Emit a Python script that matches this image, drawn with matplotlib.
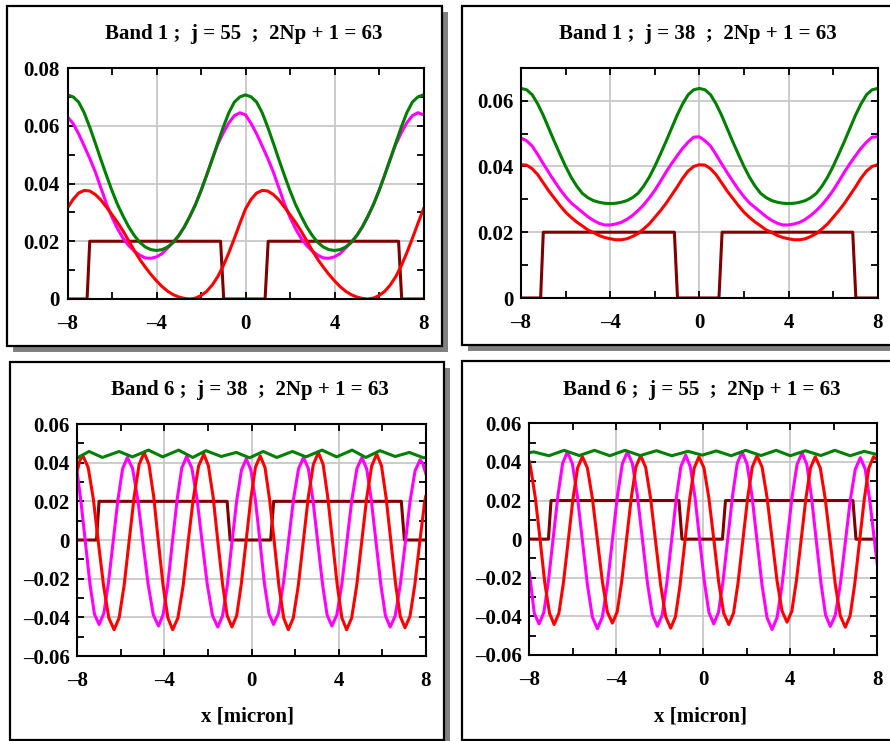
import numpy as np
import matplotlib
matplotlib.use("Agg")
import matplotlib.pyplot as plt
from matplotlib.patches import Rectangle
from matplotlib.ticker import FixedLocator, MultipleLocator, FuncFormatter

plt.rcParams['font.family'] = ['Liberation Serif', 'DejaVu Serif']
plt.rcParams['font.weight'] = 'bold'

# ---------------------------------------------------------------- data
# band 1 curves sampled every 0.25 micron from -8 to 8
x_b1 = np.linspace(-8, 8, 65)

b1_j55_green = [0.0707, 0.0700, 0.0682, 0.0645, 0.0595, 0.0540, 0.0483, 0.0428, 0.0375,
                0.0327, 0.0287, 0.0250, 0.0220, 0.0196, 0.0180, 0.0171, 0.0168,
                0.0171, 0.0180, 0.0196, 0.0220, 0.0250, 0.0287, 0.0327, 0.0375,
                0.0428, 0.0483, 0.0540, 0.0595, 0.0645, 0.0682, 0.0700, 0.0707,
                0.0700, 0.0682, 0.0645, 0.0595, 0.0540, 0.0483, 0.0428, 0.0375,
                0.0327, 0.0287, 0.0250, 0.0220, 0.0196, 0.0180, 0.0171, 0.0168,
                0.0171, 0.0180, 0.0196, 0.0220, 0.0250, 0.0287, 0.0327, 0.0375,
                0.0428, 0.0483, 0.0540, 0.0595, 0.0645, 0.0682, 0.0700, 0.0707]
b1_j55_magenta = [0.0630, 0.0608, 0.0572, 0.0530, 0.0487, 0.0440, 0.0385, 0.0330, 0.0283,
                  0.0243, 0.0210, 0.0185, 0.0166, 0.0152, 0.0142, 0.0141, 0.0146,
                  0.0157, 0.0177, 0.0196, 0.0219, 0.0249, 0.0285, 0.0327, 0.0375,
                  0.0428, 0.0483, 0.0535, 0.0575, 0.0610, 0.0635, 0.0645, 0.0638,
                  0.0608, 0.0572, 0.0530, 0.0487, 0.0440, 0.0385, 0.0330, 0.0283,
                  0.0243, 0.0210, 0.0185, 0.0166, 0.0152, 0.0142, 0.0141, 0.0146,
                  0.0157, 0.0177, 0.0196, 0.0219, 0.0249, 0.0285, 0.0327, 0.0375,
                  0.0428, 0.0483, 0.0535, 0.0575, 0.0610, 0.0635, 0.0645, 0.0638]
b1_j55_red = [0.0315, 0.0345, 0.0367, 0.0376, 0.0374, 0.0362, 0.0343, 0.0318, 0.0292,
              0.0265, 0.0235, 0.0202, 0.0168, 0.0137, 0.0110, 0.0085, 0.0063,
              0.0043, 0.0027, 0.0015, 0.0007, 0.0002, 0.0000, 0.0003, 0.0012,
              0.0026, 0.0048, 0.0077, 0.0115, 0.0160, 0.0210, 0.0262, 0.0312,
              0.0345, 0.0367, 0.0376, 0.0374, 0.0362, 0.0343, 0.0318, 0.0292,
              0.0265, 0.0235, 0.0202, 0.0168, 0.0137, 0.0110, 0.0085, 0.0063,
              0.0043, 0.0027, 0.0015, 0.0007, 0.0002, 0.0000, 0.0003, 0.0012,
              0.0026, 0.0048, 0.0077, 0.0115, 0.0160, 0.0210, 0.0262, 0.0312]

b1_j38_green = [0.0637, 0.0633, 0.0618, 0.0590, 0.0555, 0.0515, 0.0475, 0.0437, 0.0400,
                0.0367, 0.0340, 0.0318, 0.0305, 0.0296, 0.0291, 0.0288, 0.0287,
                0.0288, 0.0291, 0.0296, 0.0305, 0.0318, 0.0340, 0.0367, 0.0400,
                0.0437, 0.0475, 0.0515, 0.0555, 0.0590, 0.0618, 0.0633, 0.0637,
                0.0633, 0.0618, 0.0590, 0.0555, 0.0515, 0.0475, 0.0437, 0.0400,
                0.0367, 0.0340, 0.0318, 0.0305, 0.0296, 0.0291, 0.0288, 0.0287,
                0.0288, 0.0291, 0.0296, 0.0305, 0.0318, 0.0340, 0.0367, 0.0400,
                0.0437, 0.0475, 0.0515, 0.0555, 0.0590, 0.0618, 0.0633, 0.0637]
b1_j38_magenta = [0.0486, 0.0478, 0.0462, 0.0436, 0.0408, 0.0381, 0.0355, 0.0330, 0.0308,
                  0.0289, 0.0275, 0.0261, 0.0247, 0.0236, 0.0227, 0.0222, 0.0222,
                  0.0225, 0.0230, 0.0239, 0.0251, 0.0266, 0.0283, 0.0304, 0.0327,
                  0.0354, 0.0382, 0.0408, 0.0432, 0.0455, 0.0474, 0.0489, 0.0490,
                  0.0478, 0.0462, 0.0436, 0.0408, 0.0381, 0.0355, 0.0330, 0.0308,
                  0.0289, 0.0275, 0.0261, 0.0247, 0.0236, 0.0227, 0.0222, 0.0222,
                  0.0225, 0.0230, 0.0239, 0.0251, 0.0266, 0.0283, 0.0304, 0.0327,
                  0.0354, 0.0382, 0.0408, 0.0432, 0.0455, 0.0474, 0.0489, 0.0490]
b1_j38_red = [0.0405, 0.0404, 0.0393, 0.0375, 0.0350, 0.0325, 0.0303, 0.0281, 0.0261,
              0.0245, 0.0231, 0.0219, 0.0207, 0.0199, 0.0190, 0.0184, 0.0180,
              0.0177, 0.0177, 0.0180, 0.0187, 0.0196, 0.0210, 0.0225, 0.0245,
              0.0265, 0.0287, 0.0312, 0.0337, 0.0364, 0.0386, 0.0400, 0.0405,
              0.0404, 0.0393, 0.0375, 0.0350, 0.0325, 0.0303, 0.0281, 0.0261,
              0.0245, 0.0231, 0.0219, 0.0207, 0.0199, 0.0190, 0.0184, 0.0180,
              0.0177, 0.0177, 0.0180, 0.0187, 0.0196, 0.0210, 0.0225, 0.0245,
              0.0265, 0.0287, 0.0312, 0.0337, 0.0364, 0.0386, 0.0400, 0.0405]

# band 6, j = 38
b6_j38_red_x = [-8.00, -7.87,
                -7.74, -7.50, -7.26, -7.03, -6.79, -6.55,
                -6.31, -6.08, -5.85, -5.62, -5.39, -5.16,
                -4.93, -4.71, -4.49, -4.28, -4.06, -3.84,
                -3.62, -3.38, -3.14, -2.91, -2.67, -2.43,
                -2.19, -1.98, -1.76, -1.55, -1.33, -1.12,
                -0.90, -0.68, -0.47, -0.25, -0.03, 0.18,
                0.40, 0.62, 0.83, 1.05, 1.26, 1.48,
                1.69, 1.92, 2.15, 2.38, 2.61, 2.84,
                3.07, 3.29, 3.50, 3.72, 3.94, 4.15,
                4.37, 4.60, 4.83, 5.06, 5.29, 5.52,
                5.75, 5.97, 6.18, 6.40, 6.62, 6.83,
                7.05, 7.28, 7.50, 7.73, 7.95, 8.00]
b6_j38_red = [0.0360, 0.0415,
              0.0435, 0.0375, 0.0210, -0.0015, -0.0239, -0.0404,
              -0.0464, -0.0403, -0.0235, -0.0006, 0.0223, 0.0391,
              0.0452, 0.0391, 0.0223, -0.0006, -0.0235, -0.0403,
              -0.0464, -0.0403, -0.0237, -0.0010, 0.0217, 0.0383,
              0.0444, 0.0384, 0.0221, -0.0003, -0.0227, -0.0390,
              -0.0450, -0.0391, -0.0229, -0.0008, 0.0214, 0.0376,
              0.0435, 0.0375, 0.0210, -0.0015, -0.0239, -0.0404,
              -0.0464, -0.0403, -0.0235, -0.0006, 0.0223, 0.0391,
              0.0452, 0.0391, 0.0223, -0.0006, -0.0235, -0.0403,
              -0.0464, -0.0403, -0.0237, -0.0010, 0.0217, 0.0383,
              0.0444, 0.0384, 0.0220, -0.0005, -0.0230, -0.0394,
              -0.0454, -0.0394, -0.0232, -0.0008, 0.0195, 0.0225]
b6_j38_mag_x = [-8.00, -7.84, -7.63, -7.42, -7.21,
                -7.00, -6.78, -6.57, -6.35, -6.13, -5.92,
                -5.70, -5.46, -5.22, -4.99, -4.75, -4.51,
                -4.27, -4.06, -3.84, -3.63, -3.41, -3.20,
                -2.98, -2.74, -2.50, -2.27, -2.03, -1.79,
                -1.55, -1.33, -1.11, -0.90, -0.68, -0.46,
                -0.24, -0.03, 0.18, 0.39, 0.59, 0.80,
                1.01, 1.24, 1.47, 1.70, 1.93, 2.16,
                2.39, 2.61, 2.82, 3.04, 3.26, 3.47,
                3.69, 3.92, 4.15, 4.38, 4.61, 4.84,
                5.07, 5.29, 5.50, 5.72, 5.94, 6.15,
                6.37, 6.60, 6.83, 7.06, 7.28, 7.51,
                7.74, 7.87, 8.00]
b6_j38_mag = [0.0345, 0.0206, -0.0010, -0.0226, -0.0384,
              -0.0437, -0.0379, -0.0221, -0.0005, 0.0211, 0.0369,
              0.0427, 0.0369, 0.0209, -0.0009, -0.0227, -0.0387,
              -0.0445, -0.0386, -0.0226, -0.0007, 0.0213, 0.0373,
              0.0432, 0.0373, 0.0212, -0.0009, -0.0230, -0.0391,
              -0.0450, -0.0392, -0.0233, -0.0015, 0.0203, 0.0362,
              0.0420, 0.0363, 0.0206, -0.0009, -0.0223, -0.0380,
              -0.0437, -0.0379, -0.0221, -0.0005, 0.0211, 0.0369,
              0.0427, 0.0369, 0.0209, -0.0009, -0.0227, -0.0387,
              -0.0445, -0.0387, -0.0227, -0.0009, 0.0209, 0.0369,
              0.0427, 0.0368, 0.0208, -0.0012, -0.0231, -0.0391,
              -0.0450, -0.0392, -0.0234, -0.0018, 0.0199, 0.0357,
              0.0415, 0.0395, 0.0345]
b6_j38_green_x = [-8.00, -7.46, -6.85, -6.08, -5.47, -4.73, -4.08, -3.35, -2.70, -2.09,
                  -1.39, -0.70, -0.09, 0.54, 1.16, 1.88, 2.50, 3.24, 3.91, 4.62,
                  5.25, 5.90, 6.60, 7.25, 7.90, 8.00]
b6_j38_green = [0.0425, 0.0458, 0.0427, 0.0458, 0.0430, 0.0465, 0.0430, 0.0465, 0.0427, 0.0462,
                0.0432, 0.0453, 0.0425, 0.0458, 0.0427, 0.0458, 0.0430, 0.0465, 0.0430, 0.0465,
                0.0427, 0.0462, 0.0432, 0.0453, 0.0425, 0.0427]

# band 6, j = 55
b6_j55_red_x = [-8.00, -7.94, -7.72, -7.50, -7.29, -7.07,
                -6.86, -6.64, -6.43, -6.21, -5.99, -5.78,
                -5.56, -5.33, -5.10, -4.87, -4.64, -4.41,
                -4.18, -3.96, -3.75, -3.53, -3.31, -3.10,
                -2.88, -2.65, -2.42, -2.19, -1.96, -1.73,
                -1.50, -1.28, -1.07, -0.85, -0.63, -0.42,
                -0.20, 0.03, 0.26, 0.49, 0.71, 0.94,
                1.17, 1.39, 1.60, 1.82, 2.04, 2.25,
                2.47, 2.70, 2.93, 3.16, 3.39, 3.62,
                3.85, 4.07, 4.28, 4.50, 4.72, 4.93,
                5.15, 5.38, 5.61, 5.84, 6.07, 6.30,
                6.53, 6.75, 6.96, 7.18, 7.40, 7.61,
                7.83, 8.00]
b6_j55_red = [0.0401, 0.0372, 0.0212, -0.0006, -0.0224, -0.0384,
              -0.0442, -0.0384, -0.0225, -0.0008, 0.0210, 0.0369,
              0.0427, 0.0369, 0.0212, -0.0004, -0.0220, -0.0377,
              -0.0435, -0.0377, -0.0218, -0.0002, 0.0215, 0.0374,
              0.0432, 0.0372, 0.0209, -0.0015, -0.0238, -0.0401,
              -0.0461, -0.0402, -0.0239, -0.0017, 0.0205, 0.0368,
              0.0427, 0.0369, 0.0210, -0.0008, -0.0225, -0.0384,
              -0.0442, -0.0383, -0.0224, -0.0005, 0.0214, 0.0373,
              0.0432, 0.0374, 0.0217, 0.0001, -0.0215, -0.0372,
              -0.0430, -0.0373, -0.0216, -0.0002, 0.0213, 0.0370,
              0.0427, 0.0368, 0.0206, -0.0015, -0.0235, -0.0397,
              -0.0456, -0.0397, -0.0235, -0.0015, 0.0206, 0.0368,
              0.0427, 0.0410]
b6_j55_mag_x = [-8.00, -7.77,
                -7.55, -7.33, -7.12, -6.90, -6.68, -6.47,
                -6.25, -6.02, -5.79, -5.56, -5.33, -5.10,
                -4.87, -4.64, -4.41, -4.18, -3.95, -3.72,
                -3.49, -3.26, -3.03, -2.80, -2.57, -2.34,
                -2.11, -1.89, -1.68, -1.46, -1.24, -1.03,
                -0.81, -0.60, -0.38, -0.17, 0.05, 0.26,
                0.48, 0.70, 0.91, 1.13, 1.35, 1.56,
                1.78, 2.01, 2.24, 2.47, 2.70, 2.93,
                3.16, 3.39, 3.62, 3.85, 4.08, 4.31,
                4.54, 4.76, 4.97, 5.19, 5.41, 5.62,
                5.84, 6.07, 6.30, 6.53, 6.76, 6.99,
                7.22, 7.44, 7.65, 7.87, 8.00]
b6_j55_mag = [-0.0170, -0.0384,
              -0.0439, -0.0379, -0.0216, 0.0007, 0.0229, 0.0392,
              0.0452, 0.0391, 0.0223, -0.0006, -0.0235, -0.0403,
              -0.0464, -0.0403, -0.0235, -0.0006, 0.0223, 0.0391,
              0.0452, 0.0391, 0.0226, 0.0000, -0.0226, -0.0391,
              -0.0452, -0.0393, -0.0230, -0.0009, 0.0213, 0.0376,
              0.0435, 0.0376, 0.0217, -0.0002, -0.0221, -0.0380,
              -0.0439, -0.0379, -0.0216, 0.0007, 0.0229, 0.0392,
              0.0452, 0.0390, 0.0222, -0.0008, -0.0238, -0.0406,
              -0.0468, -0.0407, -0.0239, -0.0011, 0.0218, 0.0386,
              0.0447, 0.0387, 0.0222, -0.0003, -0.0227, -0.0392,
              -0.0452, -0.0393, -0.0234, -0.0015, 0.0204, 0.0363,
              0.0422, 0.0364, 0.0206, -0.0010, -0.0130]
b6_j55_green_x = [-8.00, -7.80, -7.10, -6.40, -5.70, -5.00, -4.30, -3.60, -2.90, -2.15,
                  -1.45, -0.70, -0.05, 0.60, 1.28, 1.95, 2.65, 3.35, 4.00, 4.70,
                  5.40, 6.05, 6.75, 7.40, 8.00]
b6_j55_green = [0.0448, 0.0452, 0.0432, 0.0460, 0.0433, 0.0460, 0.0432, 0.0460, 0.0433, 0.0458,
                0.0432, 0.0455, 0.0435, 0.0457, 0.0432, 0.0460, 0.0433, 0.0460, 0.0432, 0.0458,
                0.0433, 0.0460, 0.0432, 0.0455, 0.0438]

# index profile (same in every panel)
profile_x = [-8, -7.12, -7.0, -1.12, -0.98, 0.88, 1.02, 6.88, 7.02, 8]
profile_y = [0, 0, 0.02, 0.02, 0, 0, 0.02, 0.02, 0, 0]

titles = ['Band 1 ;  j = 55  ;  2Np + 1 = 63', 'Band 1 ;  j = 38  ;  2Np + 1 = 63',
          'Band 6 ;  j = 38  ;  2Np + 1 = 63', 'Band 6 ;  j = 55  ;  2Np + 1 = 63']

GREEN, MAGENTA, RED, MAROON = '#008000', '#ff00ff', '#ff0000', '#800000'

# ---------------------------------------------------------------- layout (pixels)
W, H = 890, 741
fig = plt.figure(figsize=(W / 100, H / 100), dpi=100)


def panel_box(l, t, r, b, off=6):
    shadow = Rectangle(((l + off) / W, 1 - (b + off) / H), (r - l) / W, (b - t) / H,
                       transform=fig.transFigure, facecolor='#808080', edgecolor='none', zorder=-2)
    frame = Rectangle((l / W, 1 - b / H), (r - l) / W, (b - t) / H,
                      transform=fig.transFigure, facecolor='white', edgecolor='black',
                      lw=1.6, zorder=-1)
    fig.patches.extend([shadow, frame])


def add_axes(l, t, r, b):
    return fig.add_axes([l / W, 1 - b / H, (r - l) / W, (b - t) / H])


def xfmt(v, pos):
    return ('\u2013%d' % abs(v)) if v < 0 else '%d' % v


def yfmt(v, pos):
    if abs(v) < 1e-9:
        return '0'
    s = '%.2f' % abs(v)
    return ('\u2013' + s) if v < 0 else s


def style(ax, ylim):
    ax.set_xlim(-8, 8)
    ax.set_ylim(*ylim)
    ax.xaxis.set_major_locator(FixedLocator([-8, -4, 0, 4, 8]))
    ax.xaxis.set_minor_locator(FixedLocator([-6, -2, 2, 6]))
    ax.yaxis.set_major_locator(MultipleLocator(0.02))
    ax.yaxis.set_minor_locator(MultipleLocator(0.01))
    ax.xaxis.set_major_formatter(FuncFormatter(xfmt))
    ax.yaxis.set_major_formatter(FuncFormatter(yfmt))
    ax.tick_params(which='both', direction='in', top=True, right=True,
                   length=5, width=1.3, labelsize=15)
    ax.tick_params(axis='x', pad=11)
    ax.tick_params(axis='y', pad=5.5)
    ax.grid(True, which='major', color='#c8c8c8', lw=1.3)
    ax.set_axisbelow(True)
    for sp in ax.spines.values():
        sp.set_linewidth(1.5)


def draw(ax, curves):
    ax.plot(profile_x, profile_y, color=MAROON, lw=2.2)
    for x, y, c in curves:
        ax.plot(x, y, color=c, lw=2.2)


panel_box(7, 6, 442, 346)
panel_box(462, 6, 905, 345)
panel_box(10, 362, 444, 740)
panel_box(462, 361, 905, 740)

ax1 = add_axes(67.5, 68, 423.5, 299)
ax2 = add_axes(521, 67.7, 877.7, 298)
ax3 = add_axes(77.3, 424, 425.7, 656)
ax4 = add_axes(529.3, 423.3, 877.3, 655)

style(ax1, (0, 0.08))
style(ax2, (0, 0.07))
style(ax3, (-0.06, 0.06))
style(ax4, (-0.06, 0.06))

draw(ax1, [(x_b1, b1_j55_magenta, MAGENTA), (x_b1, b1_j55_red, RED), (x_b1, b1_j55_green, GREEN)])
draw(ax2, [(x_b1, b1_j38_magenta, MAGENTA), (x_b1, b1_j38_red, RED), (x_b1, b1_j38_green, GREEN)])
draw(ax3, [(b6_j38_mag_x, b6_j38_mag, MAGENTA), (b6_j38_red_x, b6_j38_red, RED),
           (b6_j38_green_x, b6_j38_green, GREEN)])
draw(ax4, [(b6_j55_mag_x, b6_j55_mag, MAGENTA), (b6_j55_red_x, b6_j55_red, RED),
           (b6_j55_green_x, b6_j55_green, GREEN)])

# titles and x labels, placed by baseline in pixels
for (cx, base), t in zip([(244, 39.5), (698, 39.5), (250, 395), (702, 394.5)], titles):
    fig.text(cx / W, 1 - base / H, t, ha='center', va='baseline', fontsize=15, fontweight='bold')
for cx in (248, 700):
    fig.text(cx / W, 1 - 721 / H, 'x [micron]', ha='center', va='baseline',
             fontsize=15, fontweight='bold')

fig.savefig('out.png', dpi=100, facecolor='white')
